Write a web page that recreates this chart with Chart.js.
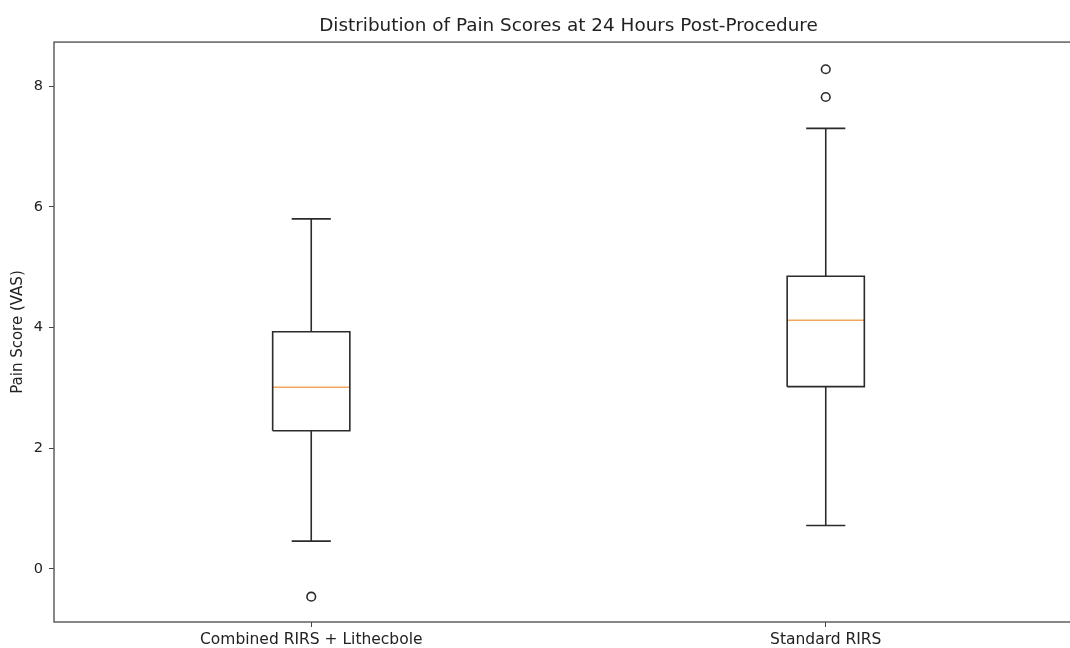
<!DOCTYPE html>
<html>
<head>
<meta charset="utf-8">
<script src="https://cdn.jsdelivr.net/npm/chart.js@4.4.1/dist/chart.umd.min.js"></script>
<style>
  html, body { margin: 0; padding: 0; background: #fff; overflow: hidden; }
  #wrap { width: 1137px; height: 648px; }
</style>
</head>
<body>
<div id="wrap"><canvas id="myChart" width="1137" height="648"></canvas></div>
<script>
// box plot stats
const groups = ['Combined RIRS + Lithecbole', 'Standard RIRS'];
const positions = [1, 2];
const whiskerLow = [0.46, 0.72];
const q1 = [2.29, 3.02];
const medians = [3.01, 4.12];
const q3 = [3.93, 4.85];
const whiskerHigh = [5.80, 7.30];
const outliers = [[-0.46], [7.82, 8.28]];
const yTicks = [0, 2, 4, 6, 8];

const boxHalf = 0.075;
const capHalf = 0.038;
const lineColor = '#2b2b2b';

function line(points, color) {
  return {
    data: points,
    showLine: true,
    borderColor: color || lineColor,
    borderWidth: 1.6,
    pointRadius: 0,
    fill: false
  };
}

const datasets = [];
for (let i = 0; i < groups.length; i++) {
  const p = positions[i];
  // box
  datasets.push(line([
    {x: p - boxHalf, y: q1[i]}, {x: p + boxHalf, y: q1[i]},
    {x: p + boxHalf, y: q3[i]}, {x: p - boxHalf, y: q3[i]},
    {x: p - boxHalf, y: q1[i]}
  ]));
  // whiskers
  datasets.push(line([{x: p, y: q1[i]}, {x: p, y: whiskerLow[i]}]));
  datasets.push(line([{x: p, y: q3[i]}, {x: p, y: whiskerHigh[i]}]));
  // caps
  datasets.push(line([{x: p - capHalf, y: whiskerLow[i]}, {x: p + capHalf, y: whiskerLow[i]}]));
  datasets.push(line([{x: p - capHalf, y: whiskerHigh[i]}, {x: p + capHalf, y: whiskerHigh[i]}]));
  // median
  datasets.push(line([{x: p - boxHalf, y: medians[i]}, {x: p + boxHalf, y: medians[i]}], '#f4a55e'));
  // fliers
  datasets.push({
    data: outliers[i].map(v => ({x: p, y: v})),
    showLine: false,
    pointStyle: 'circle',
    pointRadius: 4.3,
    pointBorderWidth: 1.6,
    pointBorderColor: lineColor,
    pointBackgroundColor: 'rgba(0,0,0,0)'
  });
}

// draws the axes frame (matplotlib style box)
const frame = {
  id: 'frame',
  afterDraw(chart) {
    const a = chart.chartArea;
    const ctx = chart.ctx;
    ctx.save();
    ctx.strokeStyle = '#555555';
    ctx.lineWidth = 1.4;
    ctx.strokeRect(a.left, a.top, a.right - a.left, a.bottom - a.top);
    ctx.restore();
  }
};

const config = {
  type: 'scatter',
  data: { datasets: datasets },
  options: {
    responsive: false,
    animation: false,
    layout: { padding: 0 },
    plugins: {
      legend: { display: false },
      tooltip: { enabled: false },
      title: {
        display: true,
        text: 'Distribution of Pain Scores at 24 Hours Post-Procedure',
        color: '#222222',
        font: { family: 'DejaVu Sans', size: 18.4, weight: 'normal', lineHeight: 1.2 },
        padding: { top: 15, bottom: 5 }
      }
    },
    scales: {
      x: {
        type: 'linear',
        min: 0.5,
        max: 2.5,
        afterBuildTicks: s => { s.ticks = positions.map(v => ({value: v})); },
        afterFit: s => { s.height = 26; },
        ticks: {
          callback: v => groups[positions.indexOf(v)],
          color: '#222222',
          font: { family: 'DejaVu Sans', size: 15.5 },
          padding: 4,
          maxRotation: 0,
          autoSkip: false
        },
        grid: { drawOnChartArea: false, tickLength: 5, color: '#444444' },
        border: { display: false }
      },
      y: {
        min: -0.88,
        max: 8.73,
        afterBuildTicks: s => { s.ticks = yTicks.map(v => ({value: v})); },
        afterFit: s => { s.width = 54; },
        ticks: {
          color: '#222222',
          font: { family: 'DejaVu Sans', size: 14.5 },
          padding: 6
        },
        grid: { drawOnChartArea: false, tickLength: 5, color: '#444444' },
        border: { display: false },
        title: {
          display: true,
          text: 'Pain Score (VAS)',
          color: '#222222',
          font: { family: 'DejaVu Sans', size: 15 },
          padding: { top: 9, bottom: 0 }
        }
      },
      yr: {
        position: 'right',
        display: true,
        min: -0.88,
        max: 8.73,
        afterFit: s => { s.width = 54; },
        ticks: { display: false },
        grid: { display: false },
        border: { display: false }
      }
    }
  },
  plugins: [frame]
};

const myChart = new Chart(document.getElementById('myChart'), config);
</script>
</body>
</html>
